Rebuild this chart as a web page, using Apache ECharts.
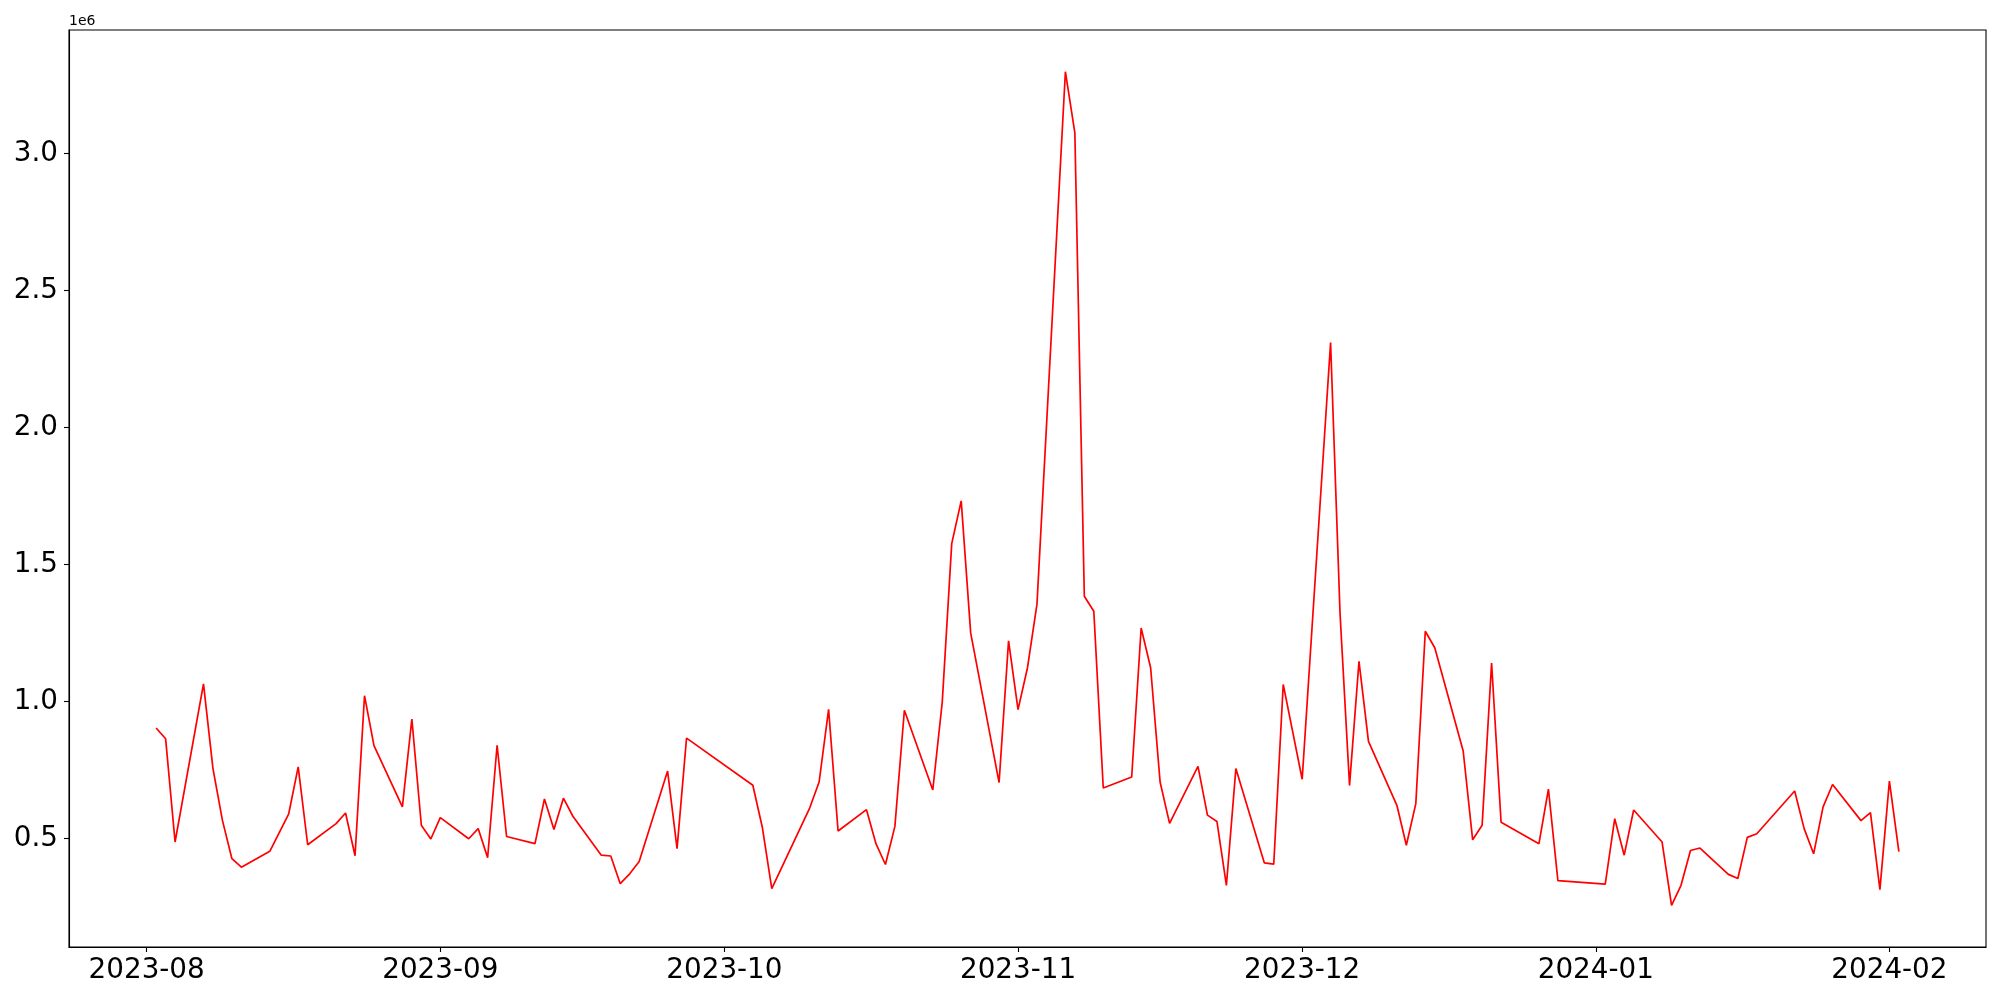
<!DOCTYPE html>
<html>
<head>
<meta charset="utf-8">
<script src="https://cdn.jsdelivr.net/npm/echarts@6/dist/echarts.min.js"></script>
<style>html,body{margin:0;padding:0;background:#fff}#c{width:2000px;height:1000px}</style>
</head>
<body>
<div id="c"></div>
<script>
const dates = [
  '2023-08-02','2023-08-03','2023-08-04','2023-08-07','2023-08-08','2023-08-09','2023-08-10','2023-08-11',
  '2023-08-14','2023-08-16','2023-08-17','2023-08-18','2023-08-21','2023-08-22','2023-08-23','2023-08-24',
  '2023-08-25','2023-08-28','2023-08-29','2023-08-30','2023-08-31','2023-09-01','2023-09-04','2023-09-05',
  '2023-09-06','2023-09-07','2023-09-08','2023-09-11','2023-09-12','2023-09-13','2023-09-14','2023-09-15',
  '2023-09-18','2023-09-19','2023-09-20','2023-09-21','2023-09-22','2023-09-25','2023-09-26','2023-09-27',
  '2023-10-04','2023-10-05','2023-10-06','2023-10-10','2023-10-11','2023-10-12','2023-10-13','2023-10-16',
  '2023-10-17','2023-10-18','2023-10-19','2023-10-20','2023-10-23','2023-10-24','2023-10-25','2023-10-26',
  '2023-10-27','2023-10-30','2023-10-31','2023-11-01','2023-11-02','2023-11-03','2023-11-06','2023-11-07',
  '2023-11-08','2023-11-09','2023-11-10','2023-11-13','2023-11-14','2023-11-15','2023-11-16','2023-11-17',
  '2023-11-20','2023-11-21','2023-11-22','2023-11-23','2023-11-24','2023-11-27','2023-11-28','2023-11-29',
  '2023-12-01','2023-12-04','2023-12-05','2023-12-06','2023-12-07','2023-12-08','2023-12-11','2023-12-12',
  '2023-12-13','2023-12-14','2023-12-15','2023-12-18','2023-12-19','2023-12-20','2023-12-21','2023-12-22',
  '2023-12-26','2023-12-27','2023-12-28','2024-01-02','2024-01-03','2024-01-04','2024-01-05','2024-01-08',
  '2024-01-09','2024-01-10','2024-01-11','2024-01-12','2024-01-15','2024-01-16','2024-01-17','2024-01-18',
  '2024-01-22','2024-01-23','2024-01-24','2024-01-25','2024-01-26','2024-01-29','2024-01-30','2024-01-31',
  '2024-02-01','2024-02-02'
];
const values = [
  903000, 864000, 487000, 1064000, 755000, 566000, 426000, 395000,
  453000, 590000, 761000, 477000, 554000, 593000, 437000, 1021000,
  839000, 615000, 936000, 548000, 498000, 576000, 499000, 536000,
  430000, 840000, 507000, 481000, 644000, 533000, 647000, 581000,
  439000, 436000, 335000, 371000, 416000, 746000, 463000, 866000,
  694000, 541000, 317000, 611000, 706000, 971000, 527000, 605000,
  481000, 405000, 544000, 968000, 677000, 998000, 1576000, 1732000,
  1250000, 704000, 1221000, 970000, 1123000, 1355000, 3298000, 3075000,
  1384000, 1329000, 684000, 724000, 1268000, 1123000, 706000, 555000,
  763000, 585000, 562000, 329000, 755000, 411000, 406000, 1062000,
  716000, 2310000, 1320000, 693000, 1146000, 854000, 621000, 475000,
  627000, 1256000, 1196000, 819000, 495000, 548000, 1140000, 559000,
  481000, 680000, 346000, 333000, 572000, 439000, 604000, 487000,
  256000, 329000, 456000, 465000, 369000, 354000, 504000, 517000,
  673000, 536000, 444000, 615000, 697000, 565000, 594000, 313000,
  709000, 452000
];
const xTickLabels = ['2023-08','2023-09','2023-10','2023-11','2023-12','2024-01','2024-02'];
const yTickValues = [500000, 1000000, 1500000, 2000000, 2500000, 3000000];
const offsetText = '1e6';

const DAY = 86400000;
const parse = s => { const p = s.split('-').map(Number); return Date.UTC(p[0], p[1] - 1, p[2] || 1) / DAY; };
const times = dates.map(s => parse(s));
const xTicks = xTickLabels.map(s => parse(s + '-01'));
const xSpan = times[times.length - 1] - times[0];
const xMin = times[0] - 0.05 * xSpan, xMax = times[times.length - 1] + 0.05 * xSpan;
const vMin = Math.min(...values), vMax = Math.max(...values);
const ySpan = vMax - vMin;
const yMin = vMin - 0.05 * ySpan, yMax = vMax + 0.05 * ySpan;

const font = 'DejaVu Sans';
const chart = echarts.init(document.getElementById('c'), null, {renderer: 'canvas'});
chart.setOption({
  animation: false,
  backgroundColor: '#fff',
  grid: {left: 69, right: 14, top: 30, bottom: 53, show: true, borderColor: '#000', borderWidth: 1.1, outerBoundsMode: 'none'},
  graphic: [{type: 'text', left: 69, top: 14, style: {text: offsetText, font: '14px "DejaVu Sans"', fill: '#000'}}],
  xAxis: {
    type: 'value', min: xMin, max: xMax, scale: true,
    axisLine: {show: true, onZero: false, lineStyle: {color: '#000', width: 1.1}},
    axisTick: {show: true, length: 5, inside: false, customValues: xTicks, lineStyle: {color: '#000', width: 1.1}},
    axisLabel: {
      customValues: xTicks, margin: 10, color: '#000', fontFamily: font, fontSize: 27.8,
      formatter: v => { const i = xTicks.findIndex(t => Math.abs(t - v) < 0.01); return i >= 0 ? xTickLabels[i] : ''; }
    },
    splitLine: {show: false}
  },
  yAxis: {
    type: 'value', min: yMin, max: yMax, scale: true,
    axisLine: {show: true, onZero: false, lineStyle: {color: '#000', width: 1.1}},
    axisTick: {show: true, length: 5, inside: false, customValues: yTickValues, lineStyle: {color: '#000', width: 1.1}},
    axisLabel: {
      customValues: yTickValues, margin: 11, color: '#000', fontFamily: font, fontSize: 27.8,
      formatter: v => (v / 1e6).toFixed(1)
    },
    splitLine: {show: false}
  },
  series: [{
    type: 'line',
    data: times.map((t, i) => [t, values[i]]),
    showSymbol: false, symbol: 'none',
    lineStyle: {color: '#ff0000', width: 1.7},
    itemStyle: {color: '#ff0000'}
  }]
});
</script>
</body>
</html>
